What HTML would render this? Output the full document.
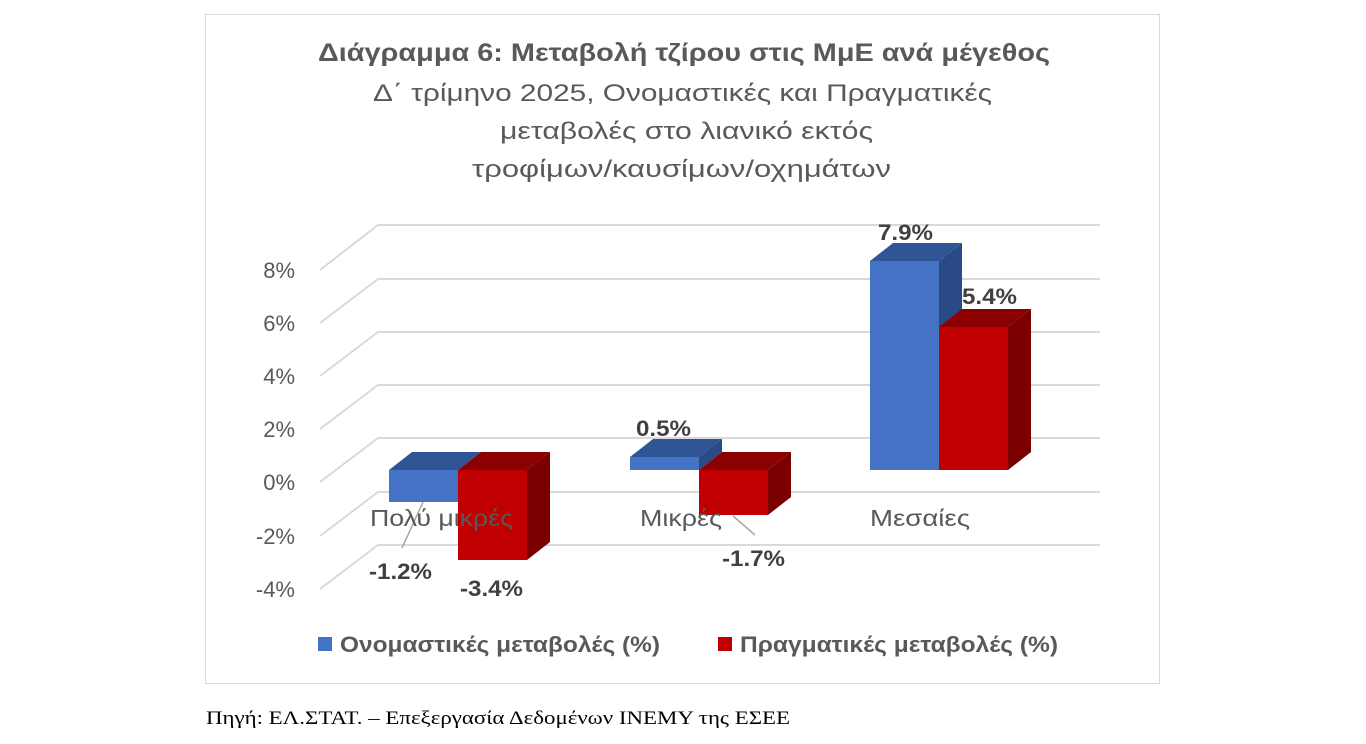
<!DOCTYPE html>
<html><head><meta charset="utf-8"><style>
body{margin:0;background:#fff;width:1366px;height:744px;overflow:hidden;font-family:"Liberation Sans","DejaVu Sans",sans-serif}
</style></head><body>
<svg width="1366" height="744" xmlns="http://www.w3.org/2000/svg" style="position:absolute;left:0;top:0">
<rect x="205.5" y="14.5" width="954" height="669" fill="#fff" stroke="#d9d9d9"/>
<g font-family="Liberation Sans, DejaVu Sans, sans-serif" fill="#595959">
<text x="318" y="61" font-size="25" font-weight="bold" textLength="732" lengthAdjust="spacingAndGlyphs">Διάγραμμα 6: Μεταβολή τζίρου στις ΜμΕ ανά μέγεθος</text>
<text x="373" y="101" font-size="24" textLength="619" lengthAdjust="spacingAndGlyphs">Δ΄ τρίμηνο 2025, Ονομαστικές και Πραγματικές</text>
<text x="500" y="139" font-size="24" textLength="373" lengthAdjust="spacingAndGlyphs">μεταβολές στο λιανικό εκτός</text>
<text x="472" y="177" font-size="24" textLength="419" lengthAdjust="spacingAndGlyphs">τροφίμων/καυσίμων/οχημάτων</text>
</g>
<g stroke="#d9d9d9" stroke-width="2" fill="none">
<path d="M320 270 L378 225 H1100"/>
<path d="M320 323 L378 279 H1100"/>
<path d="M320 376 L378 332 H1100"/>
<path d="M320 429 L378 385 H1100"/>
<path d="M320 482 L378 438 H1100"/>
<path d="M320 536 L378 492 H1100"/>
<path d="M320 589 L378 545 H1100"/>
</g>
<g font-size="22" fill="#595959" text-anchor="end">
<text x="295" y="278">8%</text><text x="295" y="331">6%</text><text x="295" y="384">4%</text>
<text x="295" y="437">2%</text><text x="295" y="490">0%</text><text x="295" y="544">-2%</text><text x="295" y="597">-4%</text>
</g>
<g>
<polygon points="389,470 412,452 481,452 458,470" fill="#2f5597"/>
<rect x="389" y="470" width="69" height="32" fill="#4472c4"/>
<polygon points="458,470 481,452 550,452 527,470" fill="#8b0000"/>
<polygon points="527,470 550,452 550,542 527,560" fill="#7a0000"/>
<rect x="458" y="470" width="69" height="90" fill="#c00000"/>
<polygon points="630,457 653,439 722,439 699,457" fill="#2f5597"/>
<polygon points="699,457 722,439 722,452 699,470" fill="#2a4a86"/>
<rect x="630" y="457" width="69" height="13" fill="#4472c4"/>
<polygon points="699,470 722,452 791,452 768,470" fill="#8b0000"/>
<polygon points="768,470 791,452 791,497 768,515" fill="#7a0000"/>
<rect x="699" y="470" width="69" height="45" fill="#c00000"/>
<polygon points="870,261 893,243 962,243 939,261" fill="#2f5597"/>
<polygon points="939,261 962,243 962,452 939,470" fill="#2a4a86"/>
<rect x="870" y="261" width="69" height="209" fill="#4472c4"/>
<polygon points="939,327 962,309 1031,309 1008,327" fill="#8b0000"/>
<polygon points="1008,327 1031,309 1031,452 1008,470" fill="#7a0000"/>
<rect x="939" y="327" width="69" height="143" fill="#c00000"/>
</g>
<g stroke="#a6a6a6" stroke-width="1.5">
<line x1="423" y1="502" x2="402" y2="548"/>
<line x1="733" y1="516" x2="755" y2="535"/>
</g>
<g font-size="23" fill="#595959">
<text x="370" y="526" textLength="143" lengthAdjust="spacingAndGlyphs">Πολύ μικρές</text>
<text x="640" y="526" textLength="82" lengthAdjust="spacingAndGlyphs">Μικρές</text>
<text x="870" y="526" textLength="100" lengthAdjust="spacingAndGlyphs">Μεσαίες</text>
</g>
<g font-size="22" font-weight="bold" fill="#404040">
<text x="369" y="579" textLength="63" lengthAdjust="spacingAndGlyphs">-1.2%</text>
<text x="460" y="596" textLength="63" lengthAdjust="spacingAndGlyphs">-3.4%</text>
<text x="636" y="436" textLength="55" lengthAdjust="spacingAndGlyphs">0.5%</text>
<text x="722" y="566" textLength="63" lengthAdjust="spacingAndGlyphs">-1.7%</text>
<text x="878" y="240" textLength="55" lengthAdjust="spacingAndGlyphs">7.9%</text>
<text x="962" y="304" textLength="55" lengthAdjust="spacingAndGlyphs">5.4%</text>
</g>
<rect x="318" y="637" width="14" height="14" fill="#4472c4"/>
<text x="340" y="652" font-size="22" font-weight="bold" fill="#595959" textLength="320" lengthAdjust="spacingAndGlyphs">Ονομαστικές μεταβολές (%)</text>
<rect x="718" y="637" width="14" height="14" fill="#c00000"/>
<text x="740" y="652" font-size="22" font-weight="bold" fill="#595959" textLength="318" lengthAdjust="spacingAndGlyphs">Πραγματικές μεταβολές (%)</text>
<text x="206" y="724" font-size="19" font-family="Liberation Serif, DejaVu Serif, serif" fill="#000" textLength="584" lengthAdjust="spacingAndGlyphs">Πηγή: ΕΛ.ΣΤΑΤ. – Επεξεργασία Δεδομένων ΙΝΕΜΥ της ΕΣΕΕ</text>
</svg>
</body></html>
